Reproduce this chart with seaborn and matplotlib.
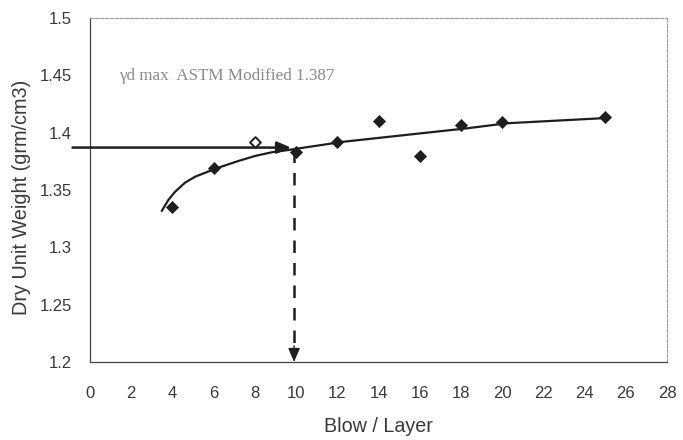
import numpy as np
import pandas as pd
import matplotlib
matplotlib.use("Agg")
import matplotlib.pyplot as plt
import seaborn as sns

# Compaction test results: blows per layer vs. dry unit weight
blows = [4, 6, 10, 12, 14, 16, 18, 20, 25]
dry_unit_weight = [1.335, 1.369, 1.383, 1.392, 1.410, 1.380, 1.407, 1.409, 1.414]

# ASTM Modified reference point (open marker)
astm_blows = [8]
astm_weight = [1.392]

# Trend curve through the test results
trend_x = [3.48, 3.80, 4.13, 4.61, 5.10, 6.15, 7.20, 8.01, 8.82, 9.63, 9.95,
           12.30, 18.29, 20.23, 24.76]
trend_y = [1.3317, 1.3413, 1.3485, 1.3564, 1.3616, 1.3690, 1.3753, 1.3797,
           1.3829, 1.3849, 1.3858, 1.3921, 1.4038, 1.4082, 1.4125]

# Maximum dry unit weight and the matching blow count
gd_max = 1.387
blows_at_max = 9.9

x_ticks = list(range(0, 29, 2))
y_ticks = [1.2, 1.25, 1.3, 1.35, 1.4, 1.45, 1.5]
y_tick_labels = ["1.2", "1.25", "1.3", "1.35", "1.4", "1.45", "1.5"]

sns.set_theme(style="white")
plt.rcParams["font.family"] = ["Liberation Sans", "DejaVu Sans"]

fig = plt.figure(figsize=(6.83, 4.40), dpi=100)
ax = fig.add_axes([0.1318, 0.1773, 0.845, 0.7818])

ink = "#1e1e1e"
text_col = "#3a3a3a"

trend = pd.DataFrame({"x": trend_x, "y": trend_y})
sns.lineplot(data=trend, x="x", y="y", sort=False, color=ink, lw=1.6, ax=ax)

pts = pd.DataFrame({"x": blows, "y": dry_unit_weight})
sns.scatterplot(data=pts, x="x", y="y", marker="D", s=38, color=ink,
                edgecolor=ink, linewidth=0.5, ax=ax, zorder=4)
astm = pd.DataFrame({"x": astm_blows, "y": astm_weight})
sns.scatterplot(data=astm, x="x", y="y", marker="D", s=30, facecolor="white",
                edgecolor=ink, linewidth=1.4, ax=ax, zorder=4)

# Horizontal arrow from the axis to the curve
ax.annotate("", xy=(blows_at_max - 0.15, gd_max), xytext=(-0.85, gd_max),
            xycoords="data", textcoords="data", annotation_clip=False,
            arrowprops=dict(arrowstyle="-|>,head_length=0.7,head_width=0.3",
                            color=ink, lw=1.8, shrinkA=0, shrinkB=0))
# Dashed drop line down to the blow-count axis
ax.plot([blows_at_max, blows_at_max], [gd_max - 0.002, 1.212], color=ink,
        lw=1.8, ls=(0, (5, 4)))
ax.annotate("", xy=(blows_at_max, 1.2), xytext=(blows_at_max, 1.214),
            arrowprops=dict(arrowstyle="-|>,head_length=0.7,head_width=0.3",
                            color=ink, lw=1.0, shrinkA=0, shrinkB=0))

ax.text(1.4, 1.449, "γd max  ASTM Modified 1.387", fontsize=12.3,
        family=["Liberation Serif", "DejaVu Serif"], color="#8a8a8a",
        va="center", ha="left")

ax.set_xlim(0, 28)
ax.set_ylim(1.2, 1.5)
ax.set_xticks(x_ticks)
ax.set_yticks(y_ticks)
ax.set_yticklabels(y_tick_labels)
ax.tick_params(axis="both", labelsize=12, colors=text_col, length=3,
               width=0.6, direction="out")
ax.tick_params(axis="x", pad=14)
ax.tick_params(axis="y", pad=10)
ax.set_xlabel("Blow / Layer", fontsize=14.2, color=text_col, labelpad=12)
ax.set_ylabel("Dry Unit Weight (grm/cm3)", fontsize=14.3, color=text_col)
ax.yaxis.set_label_coords(-0.102, 0.48)

for side in ("left", "bottom"):
    ax.spines[side].set_color("#444444")
    ax.spines[side].set_linewidth(0.9)
for side in ("top", "right"):
    ax.spines[side].set_color("#9a9a9a")
    ax.spines[side].set_linewidth(0.8)
    ax.spines[side].set_linestyle((0, (3, 1.5)))

fig.savefig("out.png", dpi=100, facecolor="white")
